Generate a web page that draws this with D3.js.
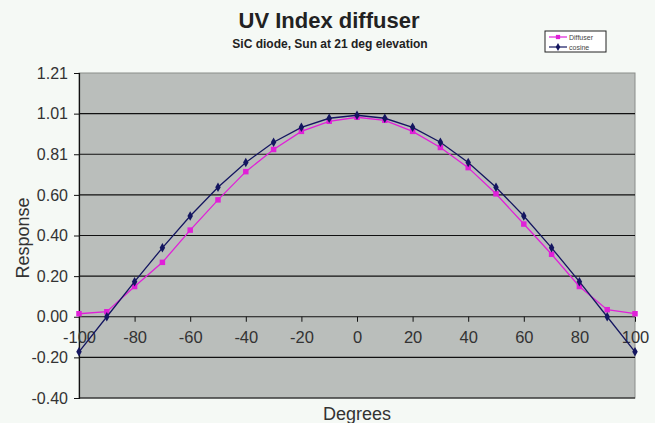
<!DOCTYPE html>
<html>
<head>
<meta charset="utf-8">
<script src="https://cdn.jsdelivr.net/npm/d3@7"></script>
<style>
  body { margin: 0; background: #f5f9f5; }
  svg { display: block; }
  text { font-family: "Liberation Sans", Arial, sans-serif; }
</style>
</head>
<body>
<script>
// data
const degrees = [-100, -90, -80, -70, -60, -50, -40, -30, -20, -10, 0, 10, 20, 30, 40, 50, 60, 70, 80, 90, 100];
const diffuser = [0.015, 0.025, 0.15, 0.27, 0.43, 0.58, 0.72, 0.83, 0.92, 0.97, 0.99, 0.975, 0.92, 0.84, 0.74, 0.61, 0.46, 0.31, 0.15, 0.035, 0.015];
const cosine = [-0.174, 0, 0.174, 0.342, 0.5, 0.643, 0.766, 0.866, 0.94, 0.985, 1.0, 0.985, 0.94, 0.866, 0.766, 0.643, 0.5, 0.342, 0.174, 0, -0.174];
const yTicks = [-0.4032, -0.2016, 0, 0.2016, 0.4032, 0.6048, 0.8064, 1.008, 1.2096];
const xTicks = [-100, -80, -60, -40, -20, 0, 20, 40, 60, 80, 100];

const W = 655, H = 423;
const pLeft = 79, pRight = 635, pTop = 73, pBottom = 398;

const svg = d3.select('body').append('svg')
    .attr('width', W)
    .attr('height', H);

const x = d3.scaleLinear().domain([-100, 100]).range([pLeft, pRight]);
const y = d3.scaleLinear().domain([-0.4032, 1.2096]).range([pBottom, pTop]);

// plain hyphen minus, like the original
const hy = f => d => f(d).replace('\u2212', '-');

// plot area
svg.append('rect')
    .attr('x', pLeft).attr('y', pTop)
    .attr('width', pRight - pLeft).attr('height', pBottom - pTop)
    .attr('fill', '#babebb')
    .attr('stroke', '#8a8d8a')
    .attr('stroke-width', 1);

// gridlines
svg.append('g')
    .selectAll('line')
    .data(yTicks.slice(0, -1))
    .enter()
    .append('line')
    .attr('x1', pLeft).attr('x2', pRight)
    .attr('y1', d => y(d)).attr('y2', d => y(d))
    .attr('stroke', '#111')
    .attr('stroke-width', 1.2);

// y axis
const yAxis = svg.append('g')
    .attr('transform', `translate(${pLeft},0)`)
    .call(d3.axisLeft(y).tickValues(yTicks).tickFormat(hy(d3.format('.2f'))).tickSize(5).tickPadding(6));
yAxis.select('.domain').attr('stroke', '#111').attr('stroke-width', 1.2);
yAxis.selectAll('.tick line').attr('stroke', '#111');
yAxis.selectAll('text').attr('font-size', 16).attr('fill', '#333');

// x axis on the zero line
const xAxis = svg.append('g')
    .attr('transform', `translate(0,${y(0)})`)
    .call(d3.axisBottom(x).tickValues(xTicks).tickFormat(hy(d3.format('d'))).tickSize(5).tickPadding(10));
xAxis.select('.domain').remove();
xAxis.selectAll('.tick line').attr('stroke', '#111');
xAxis.selectAll('text').attr('font-size', 16.5).attr('fill', '#333');

// series
const series = [
    { name: 'Diffuser', values: diffuser, color: '#e020d8', marker: 'square' },
    { name: 'cosine', values: cosine, color: '#141660', marker: 'diamond' }
];

const line = d3.line().x(d => x(d[0])).y(d => y(d[1]));

series.forEach(s => {
    const pts = degrees.map((d, i) => [d, s.values[i]]);
    svg.append('path')
        .datum(pts)
        .attr('d', line)
        .attr('fill', 'none')
        .attr('stroke', s.color)
        .attr('stroke-width', 1.3);
    svg.append('g')
        .selectAll('path')
        .data(pts)
        .enter()
        .append('path')
        .attr('transform', d => `translate(${x(d[0])},${y(d[1])})`)
        .attr('d', d3.symbol().type(s.marker === 'square' ? d3.symbolSquare : d3.symbolDiamond).size(s.marker === 'square' ? 30 : 26))
        .attr('fill', s.color);
});

// titles
svg.append('text')
    .attr('x', 329).attr('y', 28)
    .attr('text-anchor', 'middle')
    .attr('font-size', 22).attr('font-weight', 'bold')
    .attr('fill', '#222')
    .text('UV Index diffuser');
svg.append('text')
    .attr('x', 330).attr('y', 48)
    .attr('text-anchor', 'middle')
    .attr('font-size', 12).attr('font-weight', 'bold')
    .attr('fill', '#222')
    .text('SiC diode, Sun at 21 deg elevation');

svg.append('text')
    .attr('transform', 'translate(29,238) rotate(-90)')
    .attr('text-anchor', 'middle')
    .attr('font-size', 18).attr('fill', '#333')
    .text('Response');
svg.append('text')
    .attr('x', 357).attr('y', 420)
    .attr('text-anchor', 'middle')
    .attr('font-size', 18).attr('fill', '#333')
    .text('Degrees');

// legend
const lg = svg.append('g').attr('transform', 'translate(545,31)');
lg.append('rect')
    .attr('width', 61).attr('height', 21)
    .attr('fill', '#fff')
    .attr('stroke', '#222');
series.forEach((s, i) => {
    const ly = 6 + i * 10;
    lg.append('line')
        .attr('x1', 4).attr('x2', 22)
        .attr('y1', ly).attr('y2', ly)
        .attr('stroke', s.color).attr('stroke-width', 1.2);
    lg.append('path')
        .attr('transform', `translate(13,${ly})`)
        .attr('d', d3.symbol().type(s.marker === 'square' ? d3.symbolSquare : d3.symbolDiamond).size(18))
        .attr('fill', s.color);
    lg.append('text')
        .attr('x', 24).attr('y', ly + 2.5)
        .attr('font-size', 7).attr('fill', '#444')
        .text(s.name);
});
</script>
</body>
</html>
